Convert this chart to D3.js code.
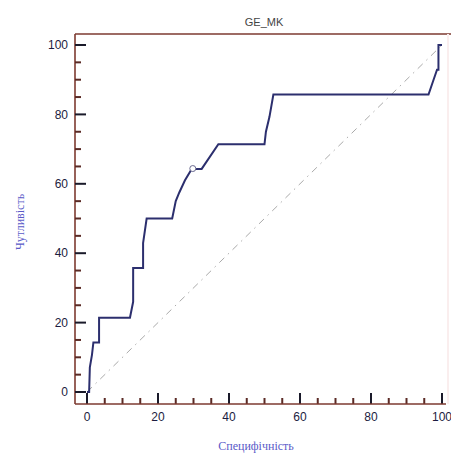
<!DOCTYPE html>
<html>
<head>
<meta charset="utf-8">
<script src="https://cdn.jsdelivr.net/npm/d3@7"></script>
<style>
  body { margin: 0; background: #fff; }
  svg { display: block; }
</style>
</head>
<body>
<svg width="451" height="455"></svg>
<script>
// ROC curve points
var spec = [0, 0.6, 0.8, 1.4, 1.8, 3.4, 3.4, 12.1, 13.0, 13.0, 15.8, 15.8, 16.8, 24.0, 25.0, 26.0, 27.6, 29.5, 31.4, 32.3, 37.0, 50.0, 50.4, 51.4, 52.5, 96.2, 97.6, 98.6, 99.0, 99.0, 100];
var sens = [0, 0, 7.1, 10.7, 14.3, 14.3, 21.4, 21.4, 26, 35.7, 35.7, 42.9, 50, 50, 55, 57.5, 61, 64.3, 64.3, 64.3, 71.4, 71.4, 75, 79.3, 85.7, 85.7, 89.9, 92.9, 92.9, 100, 100];
var cutoff = [29.8, 64.4];
var majorTicks = [0, 20, 40, 60, 80, 100];
var minorTicks = d3.range(0, 101, 5);

var svg = d3.select("svg"),
    axisColor = "#7d3a30",
    lineColor = "#2c2f6e",
    labelColor = "#5a5ac8";

var x = d3.scaleLinear().domain([0, 100]).range([87, 442]);
var y = d3.scaleLinear().domain([0, 100]).range([392, 45]);

var pLeft = 75, pBottom = 404, pTop = 34, pRight = 446;

// frame
svg.append("line")
    .attr("x1", pLeft).attr("x2", 451).attr("y1", pTop).attr("y2", pTop)
    .attr("stroke", axisColor).attr("stroke-width", 1.6);
svg.append("line")
    .attr("x1", pRight + 2).attr("x2", pRight + 2).attr("y1", pTop).attr("y2", pBottom)
    .attr("stroke", "#faeeee").attr("stroke-width", 2);

// diagonal reference
svg.append("line")
    .attr("x1", x(0)).attr("y1", y(0)).attr("x2", x(100)).attr("y2", y(100))
    .attr("stroke", "#aaa").attr("stroke-width", 1)
    .attr("stroke-dasharray", "7,5,1.5,5");

// y axis
var yAxis = svg.append("g");
yAxis.append("line")
    .attr("x1", pLeft).attr("x2", pLeft).attr("y1", pTop).attr("y2", pBottom)
    .attr("stroke", axisColor).attr("stroke-width", 1.6);
yAxis.selectAll(".tick").data(minorTicks).enter().append("line")
    .attr("class", "tick")
    .attr("x1", pLeft).attr("x2", function (d) { return d % 20 == 0 ? pLeft + 11 : pLeft + 6; })
    .attr("y1", function (d) { return y(d); }).attr("y2", function (d) { return y(d); })
    .attr("stroke", function (d) { return d % 20 == 0 ? "#1a1a2a" : "#5a2a25"; })
    .attr("stroke-width", 2);
yAxis.selectAll(".lbl").data(majorTicks).enter().append("text")
    .attr("class", "lbl")
    .attr("x", pLeft - 7).attr("y", function (d) { return y(d); })
    .attr("dy", "0.35em").attr("text-anchor", "end")
    .style("font", "12px 'Liberation Sans', Arial, sans-serif")
    .attr("fill", "#1c1c40")
    .text(function (d) { return d; });

// x axis
var xAxis = svg.append("g");
xAxis.selectAll(".tick").data(minorTicks).enter().append("line")
    .attr("class", "tick")
    .attr("x1", function (d) { return x(d); }).attr("x2", function (d) { return x(d); })
    .attr("y1", pBottom).attr("y2", function (d) { return d % 20 == 0 ? pBottom - 11 : pBottom - 6; })
    .attr("stroke", function (d) { return d % 20 == 0 ? "#1a1a2a" : "#5a2a25"; })
    .attr("stroke-width", 2);
xAxis.append("line")
    .attr("x1", pLeft).attr("x2", pRight).attr("y1", pBottom).attr("y2", pBottom)
    .attr("stroke", axisColor).attr("stroke-width", 1.6);
xAxis.selectAll(".lbl").data(majorTicks).enter().append("text")
    .attr("class", "lbl")
    .attr("x", function (d) { return x(d); }).attr("y", pBottom + 17)
    .attr("text-anchor", "middle")
    .style("font", "12px 'Liberation Sans', Arial, sans-serif")
    .attr("fill", "#1c1c40")
    .text(function (d) { return d; });

// ROC line
var pts = spec.map(function (s, i) { return [s, sens[i]]; });
svg.append("path")
    .datum(pts)
    .attr("fill", "none")
    .attr("stroke", lineColor)
    .attr("stroke-width", 2)
    .attr("d", d3.line().x(function (d) { return x(d[0]); }).y(function (d) { return y(d[1]); }));

svg.append("circle")
    .attr("cx", x(cutoff[0])).attr("cy", y(cutoff[1])).attr("r", 3)
    .attr("fill", "#fff").attr("stroke", "#6a6a90").attr("stroke-width", 1);

// titles
svg.append("text")
    .attr("x", 264).attr("y", 26).attr("text-anchor", "middle")
    .style("font", "11px 'Liberation Sans', Arial, sans-serif")
    .attr("fill", "#444")
    .text("GE_MK");

svg.append("text")
    .attr("x", 256).attr("y", 450).attr("text-anchor", "middle")
    .style("font", "12px 'Liberation Serif', 'Times New Roman', serif")
    .attr("fill", labelColor)
    .text("Специфічність");

svg.append("text")
    .attr("transform", "translate(24,222) rotate(-90)")
    .attr("text-anchor", "middle")
    .style("font", "12px 'Liberation Serif', 'Times New Roman', serif")
    .attr("fill", labelColor)
    .text("Чутливість");
</script>
</body>
</html>
